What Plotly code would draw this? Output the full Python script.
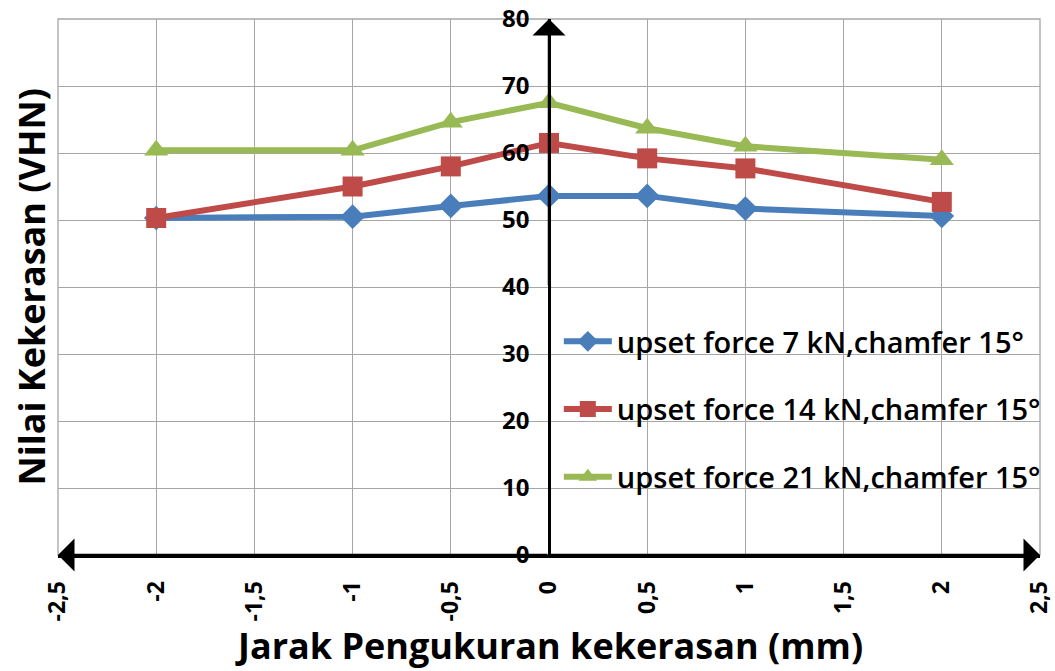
import plotly.graph_objects as go

# ---- data ----
x_mm = [-2, -1, -0.5, 0, 0.5, 1, 2]
force_7kN = [50.3, 50.5, 52.1, 53.6, 53.6, 51.7, 50.6]
force_14kN = [50.3, 55.0, 58.0, 61.5, 59.2, 57.7, 52.7]
force_21kN = [60.4, 60.4, 64.6, 67.5, 63.7, 61.0, 59.0]

series_names = [
    "upset force 7 kN,chamfer 15°",
    "upset force 14 kN,chamfer 15°",
    "upset force 21 kN,chamfer 15°",
]

x_tickvals = [-2.5, -2, -1.5, -1, -0.5, 0, 0.5, 1, 1.5, 2, 2.5]
x_ticktext = ["-2,5", "-2", "-1,5", "-1", "-0,5", "0", "0,5", "1", "1,5", "2", "2,5"]
y_tickvals = [0, 10, 20, 30, 40, 50, 60, 70, 80]

x_title = "Jarak Pengukuran kekerasan (mm)"
y_title = "Nilai Kekerasan (VHN)"

colors = ["#4A7EBB", "#BE4B48", "#98B954"]
symbols = ["diamond", "square", "triangle-up"]
msizes = [19, 20, 21]

fig = go.Figure()
for name, ys, c, s, ms in zip(series_names, [force_7kN, force_14kN, force_21kN], colors, symbols, msizes):
    fig.add_trace(go.Scatter(
        x=x_mm, y=ys, name=name, mode="lines+markers",
        line=dict(color=c, width=6),
        marker=dict(symbol=s, size=ms, color=c, line=dict(width=0)),
        legendgroup=name,
        cliponaxis=False,
    ))

grid_col = "#A6A6A6"
fig.update_layout(
    width=1055, height=671,
    margin=dict(l=58, r=15, t=19, b=116, autoexpand=False),
    paper_bgcolor="white", plot_bgcolor="white",
    font=dict(family="Open Sans, DejaVu Sans, sans-serif", color="black"),
    showlegend=True,
    legend=dict(
        x=0.51, xanchor="left", y=0.446, yanchor="top",
        bgcolor="rgba(0,0,0,0)",
        font=dict(size=29, family="Open Sans, sans-serif", weight=600),
        traceorder="grouped", tracegroupgap=27,
        itemwidth=48,
    ),
    xaxis=dict(
        range=[-2.5, 2.5], tickvals=x_tickvals, ticktext=x_ticktext,
        tickangle=-90, showgrid=True, gridcolor=grid_col, gridwidth=1.3,
        zeroline=False, showline=True, linecolor="black", linewidth=3,
        ticks="", ticklabelstandoff=14, automargin=False,
        tickfont=dict(size=23, family="Open Sans, sans-serif", weight="bold"),
    ),
    yaxis=dict(
        range=[0, 80], tickvals=y_tickvals,
        anchor="free", position=0.5,
        showgrid=True, gridcolor=grid_col, gridwidth=1.3,
        zeroline=False, showline=True, linecolor="black", linewidth=2.5,
        ticks="", ticklabelstandoff=14, automargin=False,
        tickfont=dict(size=24, family="Open Sans, sans-serif", weight="bold"),
    ),
    shapes=[dict(type="rect", xref="paper", yref="paper", x0=0, x1=1, y0=0, y1=1,
                 line=dict(color=grid_col, width=1.3), layer="below")],
)

arrow_common = dict(xref="x", yref="y", axref="x", ayref="y", text="",
                    showarrow=True, arrowhead=1, arrowsize=2.2, arrowwidth=2.5,
                    arrowcolor="black", standoff=0)
fig.add_annotation(x=2.5, y=0, ax=0, ay=0, **arrow_common)
fig.add_annotation(x=-2.5, y=0, ax=0, ay=0, **arrow_common)
fig.add_annotation(x=0, y=80, ax=0, ay=40, **arrow_common)

fig.add_annotation(text=x_title, xref="paper", yref="paper", x=0.5, y=-0.168,
                   xanchor="center", yanchor="middle", showarrow=False,
                   font=dict(size=36, family="Liberation Sans Narrow, Open Sans, sans-serif", weight="bold"))
fig.add_annotation(text=y_title, xref="paper", yref="paper", x=-0.028, y=0.5,
                   xanchor="center", yanchor="middle", showarrow=False, textangle=-90,
                   font=dict(size=36, family="Open Sans, sans-serif", weight="bold"))

fig.write_html(
    "out.html",
    config={"displayModeBar": False},
    post_script="document.body.style.margin='0';document.body.style.overflow='hidden';",
)
